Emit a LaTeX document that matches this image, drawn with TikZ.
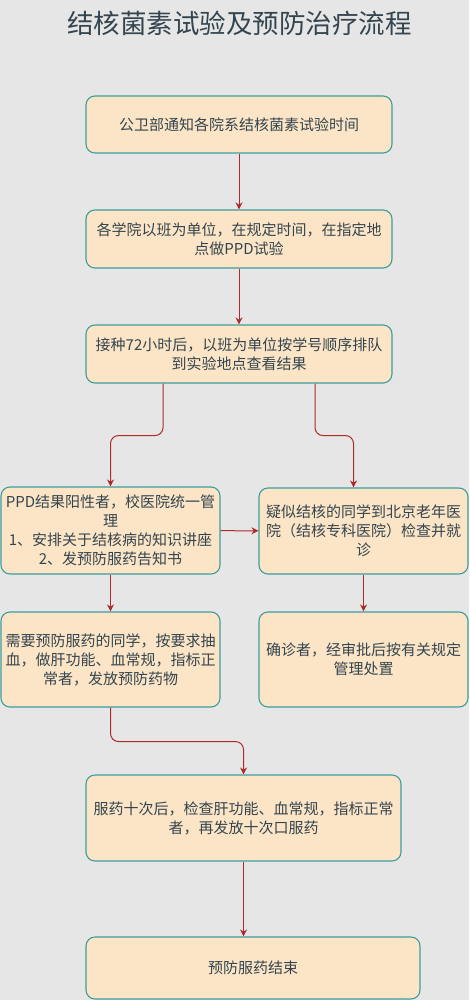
\documentclass[tikz,border=0pt]{standalone}
\usepackage{fontspec}
\setmainfont{Noto Sans CJK SC}
\usepackage{tikz}
\usetikzlibrary{arrows.meta}
\definecolor{bgc}{HTML}{E6E6E6}
\definecolor{boxc}{HTML}{FBE5C6}
\definecolor{edgec}{HTML}{3D9E9E}
\definecolor{arrc}{HTML}{B02A2A}
\definecolor{txtc}{HTML}{34454F}

\begin{document}
\begin{tikzpicture}[x=1pt,y=-1pt,>={Stealth[length=7pt,width=7pt]},
  box/.style={draw=edgec,fill=boxc,line width=1.1pt,rounded corners=9pt,align=center,text=txtc,inner sep=0pt,font=\fontsize{15}{19}\selectfont},
  arr/.style={->,draw=arrc,line width=1pt,rounded corners=8pt}]
\useasboundingbox (0,0) rectangle (469,1000);
\fill[bgc] (0,0) rectangle (469,1000);

\node[text=txtc,font=\fontsize{26.5}{30}\selectfont] (title) at (239.5,23) {结核菌素试验及预防治疗流程};

\node[box,minimum width=306pt,minimum height=57pt] (notice) at (239,124.5) {公卫部通知各院系结核菌素试验时间};
\node[box,minimum width=306pt,minimum height=58pt] (test) at (239,239) {各学院以班为单位，在规定时间，在指定地\\点做PPD试验};
\node[box,minimum width=306pt,minimum height=58pt] (check) at (239,354) {接种72小时后，以班为单位按学号顺序排队\\到实验地点查看结果};

\node[box,minimum width=219pt,minimum height=87pt] (pos) at (110.5,530.5) {PPD结果阳性者，校医院统一管\\理\\1、安排关于结核病的知识讲座\\2、发预防服药告知书};
\node[box,minimum width=209pt,minimum height=86pt] (susp) at (363.5,531) {疑似结核的同学到北京老年医\\院（结核专科医院）检查并就\\诊};

\node[box,minimum width=219pt,minimum height=95pt] (blood) at (110.5,659.5) {需要预防服药的同学，按要求抽\\血，做肝功能、血常规，指标正\\常者，发放预防药物};
\node[box,minimum width=209pt,minimum height=95pt] (confirm) at (363.5,659.5) {确诊者，经审批后按有关规定\\管理处置};

\node[box,minimum width=315pt,minimum height=86pt] (recheck) at (243.5,818) {服药十次后，检查肝功能、血常规，指标正常\\者，再发放十次口服药};
\node[box,minimum width=334pt,minimum height=62pt] (finish) at (253,968) {预防服药结束};

\draw[arr] (notice) -- (test);
\draw[arr] (test) -- (check);
\draw[arr] ([xshift=-76pt]check.south) -- ++(0,52) -| (pos.north);
\draw[arr] ([xshift=76pt]check.south) -- ++(0,52) -| ([xshift=-10pt]susp.north);
\draw[arr] (pos) -- (susp);
\draw[arr] (pos) -- (blood);
\draw[arr] (susp) -- (confirm);
\draw[arr] (blood.south) -- ++(0,34) -| (recheck.north);
\draw[arr] (recheck.south) -- (recheck.south |- finish.north);
\end{tikzpicture}
\end{document}
